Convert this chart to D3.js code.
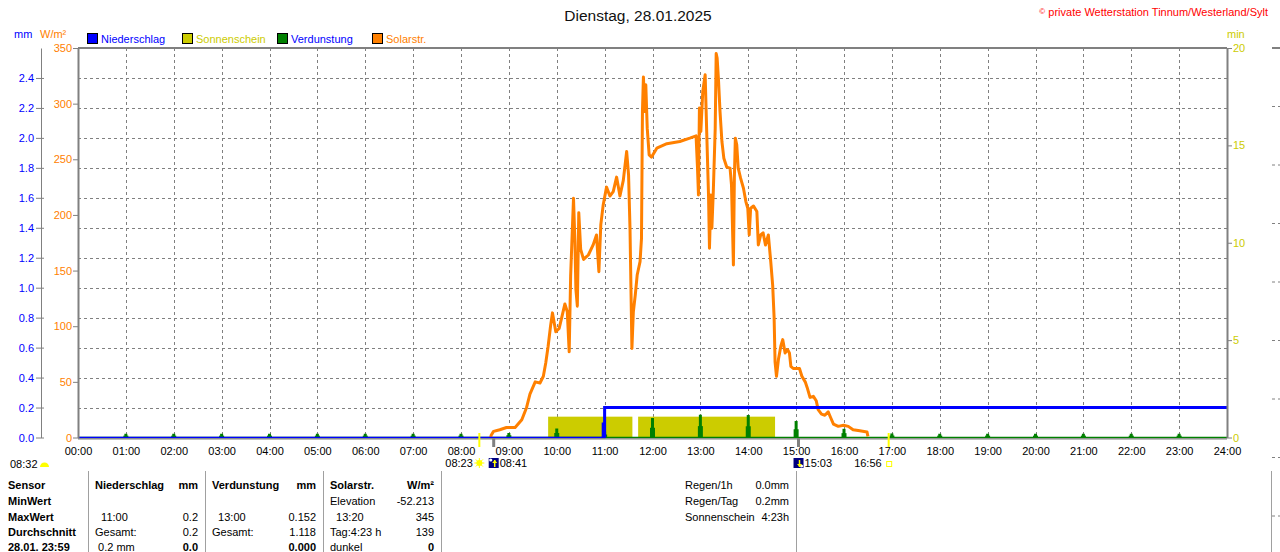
<!DOCTYPE html>
<html>
<head>
<meta charset="utf-8">
<script src="https://cdn.jsdelivr.net/npm/d3@7/dist/d3.min.js"></script>
<style>
  body { margin: 0; background: #fff; }
  svg { display: block; font-family: "Liberation Sans", Arial, sans-serif; font-size: 11px; }
  .pre { white-space: pre; }
</style>
</head>
<body>
<svg id="chart" width="1280" height="552"></svg>
<script>
// ---- data ----
const hourLabels = ["00:00","01:00","02:00","03:00","04:00","05:00","06:00","07:00","08:00","09:00","10:00","11:00","12:00",
  "13:00","14:00","15:00","16:00","17:00","18:00","19:00","20:00","21:00","22:00","23:00","24:00"];
const mmTicks = [0, 0.2, 0.4, 0.6, 0.8, 1.0, 1.2, 1.4, 1.6, 1.8, 2.0, 2.2, 2.4];
const wTicks = [0, 50, 100, 150, 200, 250, 300, 350];
const minTicks = [0, 5, 10, 15, 20];

const legendNames = ["Niederschlag", "Sonnenschein", "Verdunstung", "Solarstr."];
const legendFill = ["#0000ff", "#cccc00", "#008000", "#ff8000"];
const legendText = ["#0000ff", "#cccc00", "#0000ff", "#ff8000"];

// solar radiation (hour of day, W/m²)
const solarT = [8.62,8.63,8.68,8.81,8.95,9.13,9.27,9.37,9.44,9.55,9.65,9.72,9.77,9.82,9.87,9.91,9.98,10.05,10.10,10.17,
  10.22,10.26,10.29,10.35,10.38,10.40,10.43,10.46,10.50,10.56,10.66,10.76,10.83,10.88,10.92,10.97,11.04,11.11,11.18,11.25,
  11.32,11.39,11.46,11.50,11.53,11.57,11.60,11.64,11.68,11.74,11.77,11.79,11.81,11.84,11.86,11.89,11.93,11.98,12.09,12.30,
  12.57,12.78,12.91,12.94,12.96,12.98,13.01,13.05,13.10,13.13,13.17,13.19,13.22,13.24,13.27,13.31,13.33,13.35,13.38,13.41,
  13.45,13.49,13.55,13.62,13.65,13.69,13.71,13.73,13.76,13.79,13.84,13.90,13.95,13.99,14.02,14.05,14.11,14.18,14.21,14.26,
  14.31,14.36,14.42,14.47,14.51,14.54,14.56,14.59,14.63,14.68,14.72,14.77,14.82,14.86,14.89,14.94,15.07,15.12,15.19,15.23,
  15.29,15.36,15.42,15.46,15.53,15.60,15.67,15.72,15.78,15.88,15.99,16.09,16.19,16.33,16.48,16.50];
const solarW = [0,2,5.5,7,9,9,16,27,39,50,49,55,67,82,100,112,95,98,107,120,
  113,77,145,215,175,133,118,202,169,160,164,173,182,149,191,209,225,217,221,234,
  217,231,257,236,188,80,113,128,146,158,179,293,324,293,317,278,254,252,260,264,
  266,269,271,242,218,296,275,311,326,278,218,170,218,188,221,278,345,341,320,293,
  266,251,243,242,227,155,233,269,263,242,233,224,212,206,182,206,208,203,173,182,
  184,173,182,158,137,108,68,55,70,82,88,76,79,76,64,62,62,55,50,45,
  36,37,33,25,21,20,23,18,12,10,11,10,7,6,5,1];

// cumulative precipitation (mm)
const rainT = [0, 11, 24];
const rainMM = [0, 0.2, 0.2];
const rainBarT = [10.97];
const rainBarMM = [0.1];

// evaporation per hour (mm)
const evapH = [1,2,3,4,5,6,7,8,9,10,11,12,13,14,15,16,17,18,19,20,21,22,23];
const evapMM = [0.025,0.025,0.025,0.025,0.025,0.025,0.025,0.025,0.03,0.06,0.04,0.13,0.152,0.15,0.11,0.058,0.027,
  0.025,0.025,0.025,0.025,0.025,0.025];

// sunshine (minutes)
const sunFrom = [9.82, 11.70];
const sunTo = [11.58, 14.56];
const sunMin = [1.07, 1.07];

// sun events
const eventT = [8.383, 8.683, 15.05, 16.933];
const eventLabel = ["08:23", "08:41", "15:03", "16:56"];
const eventKind = ["rise", "shineStart", "shineEnd", "set"];

// table
const sensorRows = ["Sensor", "MinWert", "MaxWert", "Durchschnitt", "28.01. 23:59"];
const tableCols = [
  { head: "Niederschlag", unit: "mm",
    left: ["", "  11:00", "Gesamt:", " 0.2 mm"], right: ["", "0.2", "0.2", "0.0"] },
  { head: "Verdunstung", unit: "mm",
    left: ["", "  13:00", "Gesamt:", ""], right: ["", "0.152", "1.118", "0.000"] },
  { head: "Solarstr.", unit: "W/m²",
    left: ["Elevation", "  13:20", "Tag:4:23 h", "dunkel"], right: ["-52.213", "345", "139", "0"] }
];
const infoLeft = ["Regen/1h", "Regen/Tag", "Sonnenschein"];
const infoRight = ["0.0mm", "0.2mm", "4:23h"];

// ---- drawing ----
const svg = d3.select("#chart");
const grey = "#808080";
const plotL = 78, plotR = 1227, plotT = 48, plotB = 437.5;

const x = d3.scaleLinear().domain([0, 24]).range([plotL, plotR]);
const yMM = d3.scaleLinear().domain([0, 2.6]).range([plotB, plotT]);
const yW = d3.scaleLinear().domain([0, 350]).range([plotB, plotT]);
const yMin = d3.scaleLinear().domain([0, 20]).range([plotB, plotT]);

// title + copyright
svg.append("text").attr("x", 638).attr("y", 21).attr("text-anchor", "middle")
  .style("font-size", "15.5px").attr("fill", "#111").text("Dienstag, 28.01.2025");
const copy = svg.append("text").attr("x", 1268).attr("y", 16).attr("text-anchor", "end").attr("fill", "#ff0000");
copy.append("tspan").style("font-size", "8px").attr("dy", -2).text("©");
copy.append("tspan").attr("dy", 2).text(" private Wetterstation Tinnum/Westerland/Sylt");

// unit labels
svg.append("text").attr("x", 14).attr("y", 38).attr("fill", "#0000ff").text("mm");
svg.append("text").attr("x", 40).attr("y", 38).attr("fill", "#ff8000").text("W/m²");
svg.append("text").attr("x", 1227).attr("y", 38).attr("fill", "#cccc00").text("min");

// legend
const leg = svg.append("g").selectAll("g").data(legendNames).join("g")
  .attr("transform", (d, i) => `translate(${87 + i * 95},33)`);
leg.append("rect").attr("x", 0.5).attr("y", 0.5).attr("width", 10).attr("height", 10)
  .attr("fill", (d, i) => legendFill[i]).attr("stroke", "#000");
leg.append("text").attr("x", 14).attr("y", 9.5).attr("fill", (d, i) => legendText[i]).text(d => d);

// grid
const grid = svg.append("g").attr("stroke", grey).attr("stroke-dasharray", "3,3").attr("stroke-width", 1);
grid.selectAll("line.h").data(mmTicks.filter(d => d > 0)).join("line")
  .attr("x1", plotL).attr("x2", plotR)
  .attr("y1", d => Math.round(yMM(d)) + 0.5).attr("y2", d => Math.round(yMM(d)) + 0.5);
grid.selectAll("line.v").data(d3.range(1, 24)).join("line")
  .attr("y1", plotT).attr("y2", plotB)
  .attr("x1", d => Math.round(x(d)) + 0.5).attr("x2", d => Math.round(x(d)) + 0.5);

// sunshine bars
svg.append("g").selectAll("rect").data(sunFrom).join("rect")
  .attr("x", (d, i) => x(d)).attr("width", (d, i) => x(sunTo[i]) - x(d))
  .attr("y", (d, i) => yMin(sunMin[i])).attr("height", (d, i) => yMin(0) - yMin(sunMin[i]))
  .attr("fill", "#cccc00");

// evaporation baseline and spikes
svg.append("line").attr("x1", x(0)).attr("x2", x(24)).attr("y1", yMM(0)).attr("y2", yMM(0))
  .attr("stroke", "#008000").attr("stroke-width", 1.5);
const ev = svg.append("g").attr("fill", "#008000");
ev.selectAll("rect.lo").data(evapH).join("rect")
  .attr("x", d => x(d) - 2.5).attr("width", 5)
  .attr("y", (d, i) => yMM(evapMM[i] * 0.5)).attr("height", (d, i) => yMM(0) - yMM(evapMM[i] * 0.5));
ev.selectAll("rect.hi").data(evapH).join("rect")
  .attr("x", d => x(d) - 1.5).attr("width", 3)
  .attr("y", (d, i) => yMM(evapMM[i])).attr("height", (d, i) => yMM(0) - yMM(evapMM[i]));

// solar radiation
const solar = solarT.map((t, i) => ({ t, w: solarW[i] }));
svg.append("path").datum(solar)
  .attr("d", d3.line().x(d => x(d.t)).y(d => yW(d.w)))
  .attr("fill", "none").attr("stroke", "#ff8000").attr("stroke-width", 3)
  .attr("stroke-linejoin", "round");

// precipitation
const rain = rainT.map((t, i) => ({ t, v: rainMM[i] }));
const rainLine = d3.line().x(d => x(d.t)).y(d => yMM(d.v)).curve(d3.curveStepAfter);
svg.append("path").datum(rain).attr("d", rainLine)
  .attr("fill", "none").attr("stroke", "#0000ff").attr("stroke-width", 1.5);
const firstWet = rain.findIndex(d => d.v > 0);
svg.append("path").datum([{ t: rain[firstWet].t, v: 0 }].concat(rain.slice(firstWet)))
  .attr("d", rainLine).attr("fill", "none").attr("stroke", "#0000ff").attr("stroke-width", 3);
svg.append("g").selectAll("rect").data(rainBarT).join("rect")
  .attr("x", d => x(d) - 1.5).attr("width", 3.5)
  .attr("y", (d, i) => yMM(rainBarMM[i])).attr("height", (d, i) => yMM(0) - yMM(rainBarMM[i]))
  .attr("fill", "#0000ff");

// frame
svg.append("line").attr("x1", plotL).attr("x2", plotR).attr("y1", plotT).attr("y2", plotT)
  .attr("stroke", grey).attr("stroke-width", 2);
svg.append("line").attr("x1", plotL).attr("x2", plotR).attr("y1", 438.8).attr("y2", 438.8)
  .attr("stroke", grey).attr("stroke-width", 1.2);

// axes
const axMM = svg.append("g").attr("transform", "translate(41,0)")
  .call(d3.axisLeft(yMM).tickValues(mmTicks).tickFormat(d3.format(".1f")).tickSizeInner(5).tickSizeOuter(0).tickPadding(2));
axMM.selectAll(".tick line").clone().attr("x2", 3);
const axW = svg.append("g").attr("transform", `translate(${plotL},0)`)
  .call(d3.axisLeft(yW).tickValues(wTicks).tickSizeInner(5).tickSizeOuter(0).tickPadding(1));
axW.select(".domain").attr("stroke-width", 2);
const axMin = svg.append("g").attr("transform", `translate(${plotR},0)`)
  .call(d3.axisRight(yMin).tickValues(minTicks).tickSizeInner(5).tickSizeOuter(0).tickPadding(1));
axMin.select(".domain").attr("stroke-width", 2);
const axX = svg.append("g").attr("transform", "translate(0,438)")
  .call(d3.axisBottom(x).tickValues(d3.range(25)).tickFormat((d, i) => hourLabels[i]).tickSizeInner(0).tickSizeOuter(0).tickPadding(9));
axX.select(".domain").remove();
axX.selectAll(".tick line").remove();

[axMM, axW, axMin, axX].forEach(a => {
  a.attr("font-family", null).attr("font-size", null);
  a.selectAll(".domain, .tick line").attr("stroke", grey);
});
axMM.selectAll("text").attr("fill", "#0000ff");
axW.selectAll("text").attr("fill", "#ff8000");
axMin.selectAll("text").attr("fill", "#cccc00");
axX.selectAll("text").attr("fill", "#000");

// sun event ticks and labels
const evG = svg.append("g");
eventT.forEach((t, i) => {
  const k = eventKind[i], cx = x(t);
  if (k === "rise" || k === "set") {
    evG.append("line").attr("x1", cx).attr("x2", cx).attr("y1", 433).attr("y2", 447)
      .attr("stroke", "#ffff00").attr("stroke-width", 2);
  } else {
    evG.append("line").attr("x1", cx).attr("x2", cx).attr("y1", 438).attr("y2", 447)
      .attr("stroke", grey).attr("stroke-width", 3);
  }
  if (k === "rise") {
    evG.append("text").attr("x", cx - 6.5).attr("y", 467).attr("text-anchor", "end").text(eventLabel[i]);
    const s = evG.append("g").attr("transform", `translate(${cx},463)`);
    s.selectAll("line").data(d3.range(8)).join("line")
      .attr("x1", 0).attr("y1", 0).attr("x2", a => 5 * Math.cos(a * Math.PI / 4)).attr("y2", a => 5 * Math.sin(a * Math.PI / 4))
      .attr("stroke", "#ffff00").attr("stroke-width", 1);
    s.append("circle").attr("r", 3).attr("fill", "#ffff00");
  } else if (k === "set") {
    evG.append("text").attr("x", cx - 7).attr("y", 467).attr("text-anchor", "end").text(eventLabel[i]);
    evG.append("rect").attr("x", cx - 2).attr("y", 461.5).attr("width", 5).attr("height", 5)
      .attr("fill", "none").attr("stroke", "#ffff00").attr("stroke-width", 1);
  } else {
    const ic = evG.append("g").attr("transform", `translate(${cx - 5},458)`);
    ic.append("rect").attr("width", 10).attr("height", 10).attr("fill", "#000080");
    ic.append("circle").attr("cx", k === "shineStart" ? 2 : 8).attr("cy", k === "shineStart" ? 2 : 8).attr("r", 1.6).attr("fill", "#fff");
    ic.append("line").attr("x1", 6).attr("x2", 6).attr("y1", 2).attr("y2", 9).attr("stroke", "#ffff00").attr("stroke-width", 1.5);
    ic.append("path").attr("d", k === "shineStart" ? "M3.5,5 L6,2 L8.5,5 Z" : "M3.5,6 L6,9 L8.5,6 Z").attr("fill", "#ffff00");
    evG.append("text").attr("x", cx + 6).attr("y", 467).text(eventLabel[i]);
  }
});
// day length
svg.append("text").attr("x", 10).attr("y", 468).text("08:32");
svg.append("path").attr("d", "M40,467 A4.5,4.5 0 0 1 49,467 Z").attr("fill", "#ffff00");

// table
const rowY = [489, 505, 520.7, 536.3, 551];
const tbl = svg.append("g");
tbl.selectAll("text.s").data(sensorRows).join("text")
  .attr("x", 8).attr("y", (d, i) => rowY[i]).attr("font-weight", "bold").text(d => d);
const colX = [95, 212, 330], colR = [198, 316, 434];
tableCols.forEach((c, ci) => {
  tbl.append("text").attr("x", colX[ci]).attr("y", rowY[0]).attr("font-weight", "bold").text(c.head);
  tbl.append("text").attr("x", colR[ci]).attr("y", rowY[0]).attr("text-anchor", "end").attr("font-weight", "bold").text(c.unit);
  c.left.forEach((s, ri) => {
    tbl.append("text").attr("class", "pre").attr("x", colX[ci]).attr("y", rowY[ri + 1]).text(s);
  });
  c.right.forEach((s, ri) => {
    tbl.append("text").attr("x", colR[ci]).attr("y", rowY[ri + 1]).attr("text-anchor", "end")
      .attr("font-weight", ri === 3 ? "bold" : null).text(s);
  });
});
infoLeft.forEach((s, i) => {
  tbl.append("text").attr("x", 685).attr("y", rowY[i]).text(s);
  tbl.append("text").attr("x", 789).attr("y", rowY[i]).attr("text-anchor", "end").text(infoRight[i]);
});
tbl.selectAll("line").data([88, 205, 323, 441, 796, 1271]).join("line")
  .attr("x1", d => d + 0.5).attr("x2", d => d + 0.5).attr("y1", 471).attr("y2", 552)
  .attr("stroke", "#a0a0a0").attr("stroke-width", 1);

// edge of the neighbouring panel
svg.append("line").attr("x1", 1272).attr("x2", 1280).attr("y1", plotT).attr("y2", plotT)
  .attr("stroke", grey).attr("stroke-width", 2);
svg.append("g").selectAll("line").data(d3.range(8)).join("line")
  .attr("x1", 1272).attr("x2", 1280)
  .attr("y1", i => 106.5 + i * 58.5).attr("y2", i => 106.5 + i * 58.5)
  .attr("stroke", grey).attr("stroke-dasharray", "3,3");
</script>
</body>
</html>
